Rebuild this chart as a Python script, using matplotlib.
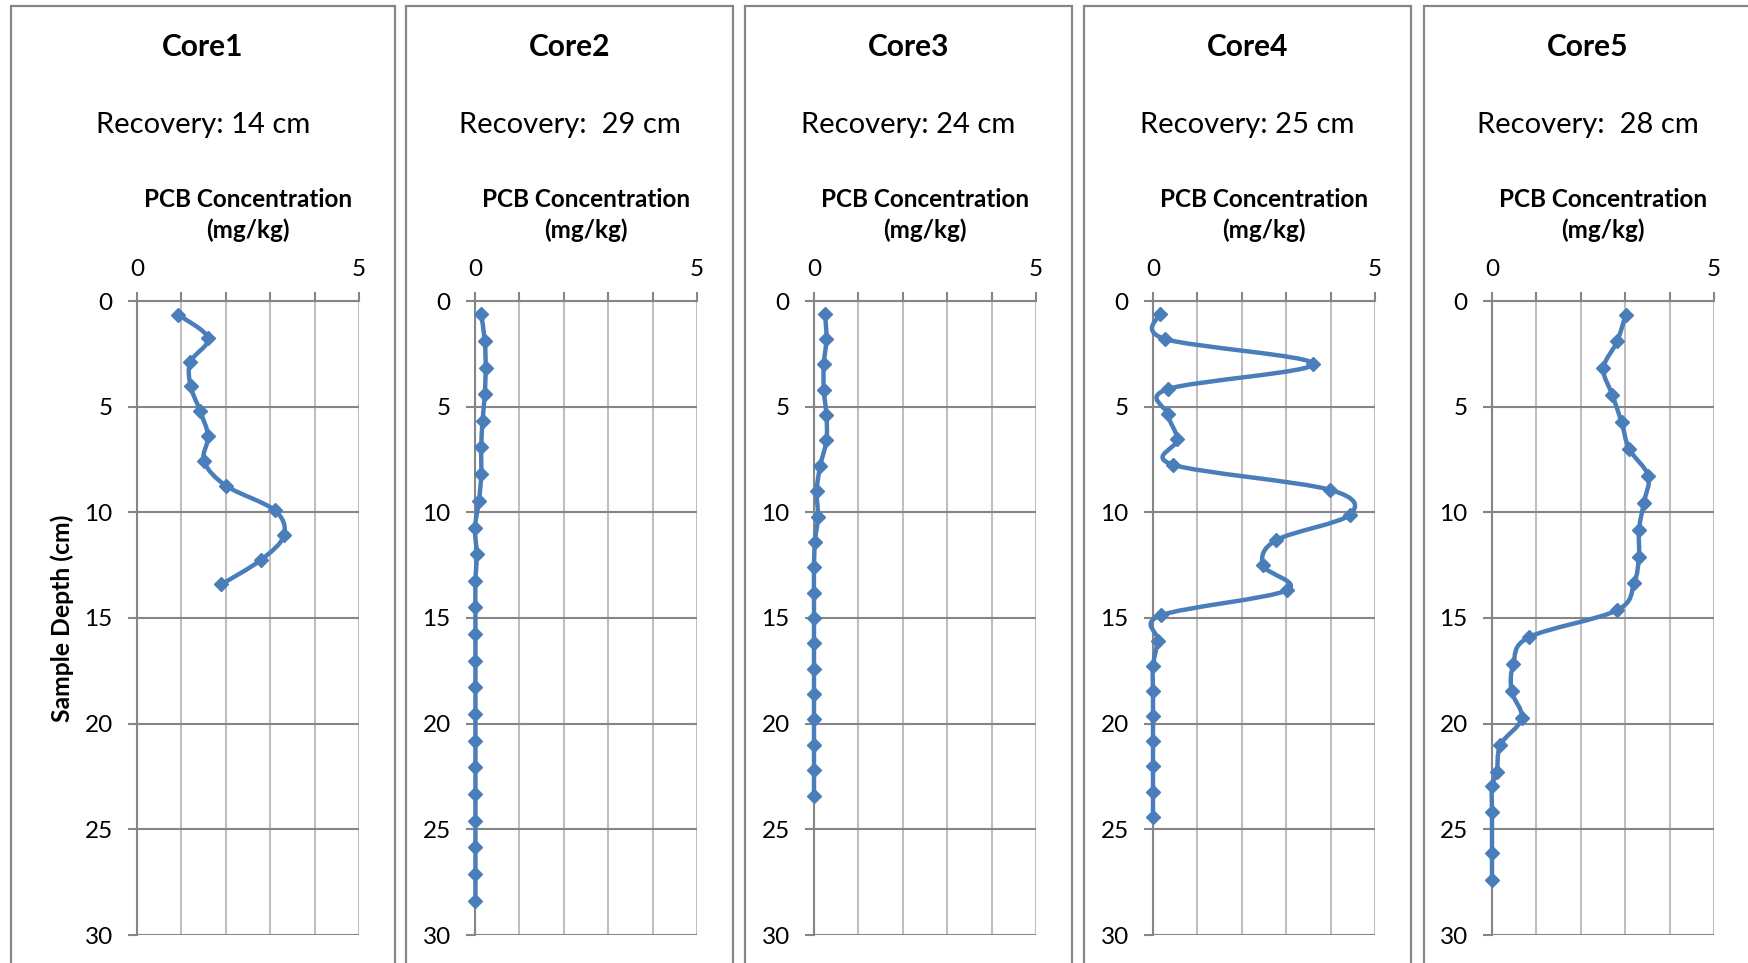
# -*- coding:utf-8 -*-
import numpy as np
import matplotlib
matplotlib.use('Agg')
import matplotlib.pyplot as plt
from matplotlib.path import Path
from matplotlib.patches import PathPatch, Rectangle
from matplotlib.ticker import MultipleLocator, FixedLocator

# --- data (depth in cm, PCB in mg/kg) ---
cores = ['Core1', 'Core2', 'Core3', 'Core4', 'Core5']
recovery = ['Recovery: 14 cm', 'Recovery:  29 cm', 'Recovery: 24 cm',
            'Recovery: 25 cm', 'Recovery:  28 cm']

core1_depth = [0.65, 1.75, 2.89, 4.04, 5.2, 6.39, 7.59, 8.75, 9.9, 11.09, 12.24, 13.41]
core1_pcb = [0.93, 1.60, 1.20, 1.21, 1.42, 1.60, 1.51, 2.01, 3.10, 3.31, 2.80, 1.90]

core2_depth = [0.63, 1.89, 3.15, 4.41, 5.67, 6.93, 8.2, 9.46, 10.72, 11.98, 13.24, 14.5,
               15.76, 17.02, 18.28, 19.54, 20.8, 22.07, 23.33, 24.59, 25.85, 27.11, 28.37]
core2_pcb = [0.14, 0.22, 0.24, 0.22, 0.17, 0.14, 0.14, 0.09, 0.0, 0.04, 0.01, 0.01,
             0.01, 0.01, 0.01, 0.01, 0.01, 0.01, 0.01, 0.01, 0.01, 0.01, 0.01]

core3_depth = [0.6, 1.8, 3.0, 4.2, 5.4, 6.6, 7.8, 9.0, 10.2, 11.4, 12.6, 13.8,
               15.0, 16.2, 17.4, 18.6, 19.8, 21.0, 22.2, 23.4]
core3_pcb = [0.25, 0.28, 0.22, 0.22, 0.28, 0.28, 0.14, 0.06, 0.09, 0.02, 0.0, 0.0,
             0.0, 0.0, 0.0, 0.0, 0.0, 0.0, 0.0, 0.0]

core4_depth = [0.6, 1.79, 2.98, 4.17, 5.36, 6.55, 7.74, 8.93, 10.12, 11.31, 12.5, 13.69,
               14.88, 16.07, 17.26, 18.45, 19.64, 20.83, 22.02, 23.21, 24.4]
core4_pcb = [0.15, 0.26, 3.61, 0.33, 0.33, 0.55, 0.44, 3.98, 4.43, 2.78, 2.47, 3.01,
             0.17, 0.11, 0.0, 0.0, 0.0, 0.0, 0.0, 0.0, 0.0]

core5_depth = [0.64, 1.91, 3.18, 4.45, 5.73, 7.0, 8.27, 9.55, 10.82, 12.09, 13.36, 14.64,
               15.91, 17.18, 18.45, 19.75, 21.0, 22.3, 22.95, 24.2, 26.1, 27.4]
core5_pcb = [3.01, 2.82, 2.51, 2.71, 2.92, 3.09, 3.52, 3.42, 3.31, 3.31, 3.2, 2.81,
             0.83, 0.48, 0.44, 0.67, 0.19, 0.11, 0.0, 0.0, 0.0, 0.0]

depths = [core1_depth, core2_depth, core3_depth, core4_depth, core5_depth]
pcbs = [core1_pcb, core2_pcb, core3_pcb, core4_pcb, core5_pcb]

W, H = 1749, 963
BLUE = '#4A7EBB'
DARK = '#868686'
LIGHT = '#BFBFBF'
TITLE_FS = 21
AXIS_FS = 17.5

plt.rcParams['font.family'] = ['Lato', 'DejaVu Sans']


def fx(px):
    return px / W


def fy(py):
    return 1 - py / H


def smooth_path(xs, ys):
    # excel-style smoothed line as cubic bezier segments
    pts = np.column_stack([xs, ys]).astype(float)
    n = len(pts)
    verts = [pts[0]]
    codes = [Path.MOVETO]
    for i in range(n - 1):
        p0 = pts[i - 1] if i > 0 else pts[i]
        p1 = pts[i]
        p2 = pts[i + 1]
        p3 = pts[i + 2] if i + 2 < n else pts[i + 1]
        verts += [p1 + (p2 - p0) / 6, p2 - (p3 - p1) / 6, p2]
        codes += [Path.CURVE4] * 3
    return Path(verts, codes)


fig = plt.figure(figsize=(W / 100, H / 100), dpi=100)

frame_left = [11, 406, 745, 1084, 1424]
frame_right = [395, 733, 1072, 1411, 1752]
axis_left = [137, 475, 814, 1153, 1492]
axis_w = 222
axis_top, axis_bot = 301, 935

for i in range(5):
    fl, fr = frame_left[i], frame_right[i]
    fig.add_artist(Rectangle((fx(fl), fy(1000)), fx(fr - fl), (1000 - 6) / H,
                             transform=fig.transFigure, fill=False,
                             edgecolor=DARK, lw=1.6))
    cx = (fl + fr) / 2
    fig.text(fx(cx), fy(56), cores[i], ha='center', va='baseline',
             fontsize=TITLE_FS + 0.5, fontweight='bold')
    fig.text(fx(cx), fy(133), recovery[i], ha='center', va='baseline', fontsize=TITLE_FS)
    acx = axis_left[i] + axis_w / 2
    fig.text(fx(acx), fy(207), 'PCB Concentration', ha='center', va='baseline',
             fontsize=AXIS_FS, fontweight='bold')
    fig.text(fx(acx), fy(238), '(mg/kg)', ha='center', va='baseline',
             fontsize=AXIS_FS, fontweight='bold')

    ax = fig.add_axes([fx(axis_left[i]), fy(axis_bot), fx(axis_w),
                       (axis_bot - axis_top) / H])
    ax.set_xlim(0, 5)
    ax.set_ylim(30, 0)
    ax.xaxis.tick_top()
    ax.xaxis.set_major_locator(FixedLocator([0, 5]))
    ax.xaxis.set_minor_locator(MultipleLocator(1))
    ax.yaxis.set_major_locator(MultipleLocator(5))
    ax.grid(True, which='minor', axis='x', color=LIGHT, lw=1.5)
    ax.grid(True, which='major', axis='x', color=LIGHT, lw=1.5)
    ax.grid(True, which='major', axis='y', color=DARK, lw=1.5)
    ax.set_axisbelow(True)
    for s in ['right', 'bottom']:
        ax.spines[s].set_visible(False)
    for s in ['top', 'left']:
        ax.spines[s].set_color(DARK)
        ax.spines[s].set_linewidth(1.5)
    ax.tick_params(axis='x', which='both', direction='out', length=6.5, width=1.5,
                   color=DARK, labelsize=AXIS_FS, pad=8.5)
    ax.tick_params(axis='y', which='major', direction='out', length=6.5, width=1.5,
                   color=DARK, labelsize=AXIS_FS, pad=11)

    ax.add_patch(PathPatch(smooth_path(pcbs[i], depths[i]), facecolor='none',
                           edgecolor=BLUE, lw=3.2, clip_on=False, zorder=3))
    ax.plot(pcbs[i], depths[i], 'D', color=BLUE, ms=7.5, mec=BLUE, clip_on=False, zorder=4)

    if i == 0:
        fig.text(fx(62), fy((axis_top + axis_bot) / 2), 'Sample Depth (cm)',
                 rotation=90, ha='center', va='center', fontsize=AXIS_FS + 0.3,
                 fontweight='bold')

fig.savefig('out.png', dpi=100)
